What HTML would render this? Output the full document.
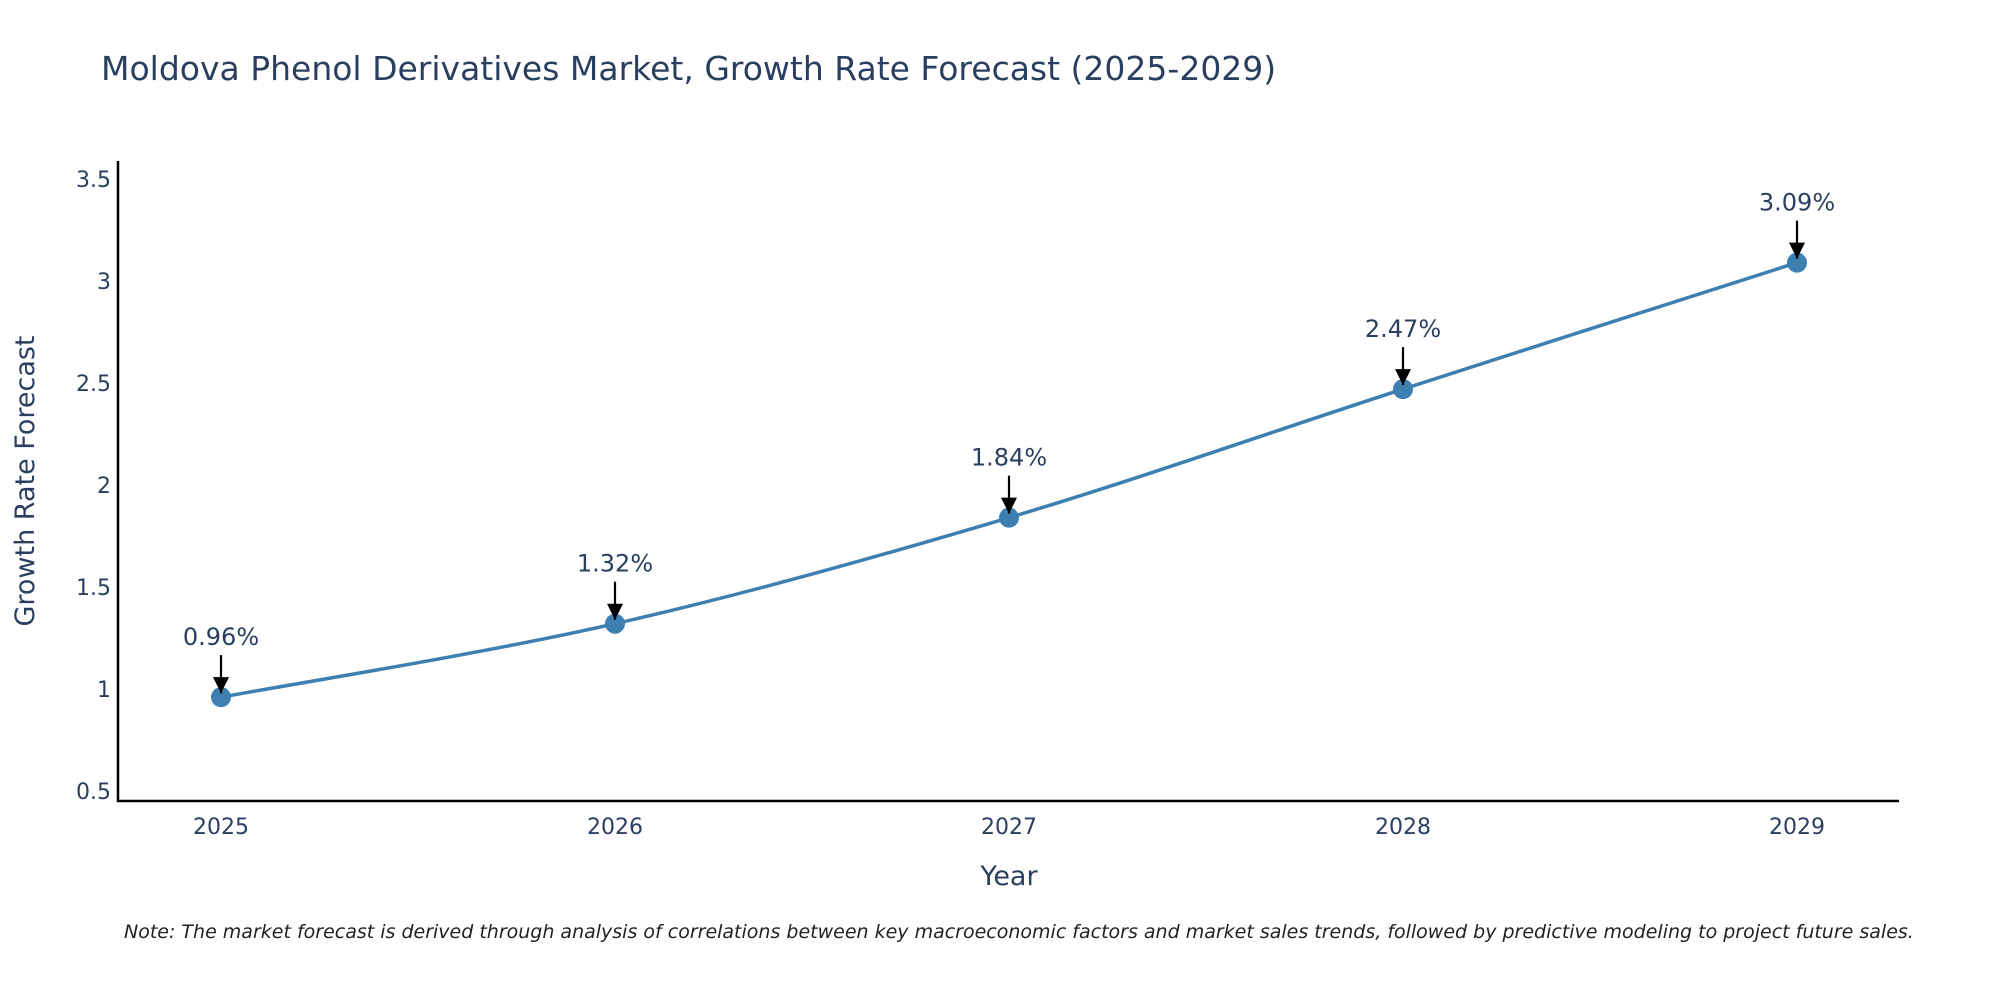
<!DOCTYPE html>
<html><head><meta charset="utf-8"><style>
body{margin:0;background:#fff;}
svg{display:block;font-family:"DejaVu Sans","Liberation Sans",sans-serif;}
</style></head><body>
<svg id="chart" width="2000" height="1000">
<text x="101" y="80" font-size="33" fill="#2a3f5f">Moldova Phenol Derivatives Market, Growth Rate Forecast (2025-2029)</text>
<g id="yticks"></g>
<g id="xticks"></g>
<line x1="118" y1="161" x2="118" y2="802" stroke="#000" stroke-width="2.5"/>
<line x1="117" y1="801" x2="1899" y2="801" stroke="#000" stroke-width="2.5"/>
<text transform="translate(34,481) rotate(-90)" text-anchor="middle" font-size="27" fill="#2a3f5f">Growth Rate Forecast</text>
<text x="1009" y="885" text-anchor="middle" font-size="27" fill="#2a3f5f">Year</text>
<g id="series"></g>
<text x="124" y="938" font-size="19" font-style="italic" fill="#222">Note: The market forecast is derived through analysis of correlations between key macroeconomic factors and market sales trends, followed by predictive modeling to project future sales.</text>
</svg>
<script>
const years = [2025, 2026, 2027, 2028, 2029];
const values = [0.96, 1.32, 1.84, 2.47, 3.09];
const labels = ["0.96%", "1.32%", "1.84%", "2.47%", "3.09%"];
const yTickValues = [0.5, 1, 1.5, 2, 2.5, 3, 3.5];
const yTickLabels = ["0.5", "1", "1.5", "2", "2.5", "3", "3.5"];

const NS = "http://www.w3.org/2000/svg";
const xScale = v => 221 + (v - 2025) * 394;
const yScale = v => 791 - (v - 0.5) * 204;
function mk(tag, attrs, parent){const e=document.createElementNS(NS,tag);for(const k in attrs)e.setAttribute(k,attrs[k]);parent.appendChild(e);return e;}

const yt=document.getElementById('yticks');
yTickValues.forEach((v,i)=>{
  const t=mk('text',{x:111,y:yScale(v)+8,'text-anchor':'end','font-size':22,fill:'#2a3f5f'},yt);
  
  
  t.textContent=yTickLabels[i];
});
const xt=document.getElementById('xticks');
years.forEach(y=>{
  const t=mk('text',{x:xScale(y),y:834,'text-anchor':'middle','font-size':22,fill:'#2a3f5f'},xt);
  
  
  t.textContent=y;
});

const g=document.getElementById('series');
const pts=years.map((y,i)=>[xScale(y),yScale(values[i])]);
let d=`M${pts[0][0]},${pts[0][1]}`;
for(let i=0;i<pts.length-1;i++){
  const p0=pts[i-1]||pts[i],p1=pts[i],p2=pts[i+1],p3=pts[i+2]||p2;
  const s=6;
  d+=` C${p1[0]+(p2[0]-p0[0])/s},${p1[1]+(p2[1]-p0[1])/s} ${p2[0]-(p3[0]-p1[0])/s},${p2[1]-(p3[1]-p1[1])/s} ${p2[0]},${p2[1]}`;
}
const line=mk('path',{d:d,fill:'none',stroke:'#3d7fb0','stroke-width':3.5},g);



const defs=mk('defs',{},document.getElementById('chart'));
const m=mk('marker',{id:'ah',viewBox:'0 0 10 10',refX:9,refY:5,markerWidth:7,markerHeight:7,orient:'auto',markerUnits:'userSpaceOnUse'},defs);
mk('path',{d:'M0,0 L10,5 L0,10 z',fill:'#000'},m);

pts.forEach((p,i)=>{
  const c=mk('circle',{cx:p[0],cy:p[1],r:10,fill:'#3d7fb0'},g);
  
  
  const a=mk('line',{x1:p[0],y1:p[1]-42,x2:p[0],y2:p[1]-4,stroke:'#000','stroke-width':2.2},g);
  
  
  const h=mk('path',{d:`M${p[0]-8},${p[1]-20} L${p[0]+8},${p[1]-20} L${p[0]},${p[1]-4} Z`,fill:'#000'},g);
  
  
  const t=mk('text',{x:p[0],y:p[1]-52,'text-anchor':'middle','font-size':24,fill:'#2a3f5f'},g);
  
  
  t.textContent=labels[i];
});
</script>
</body></html>
